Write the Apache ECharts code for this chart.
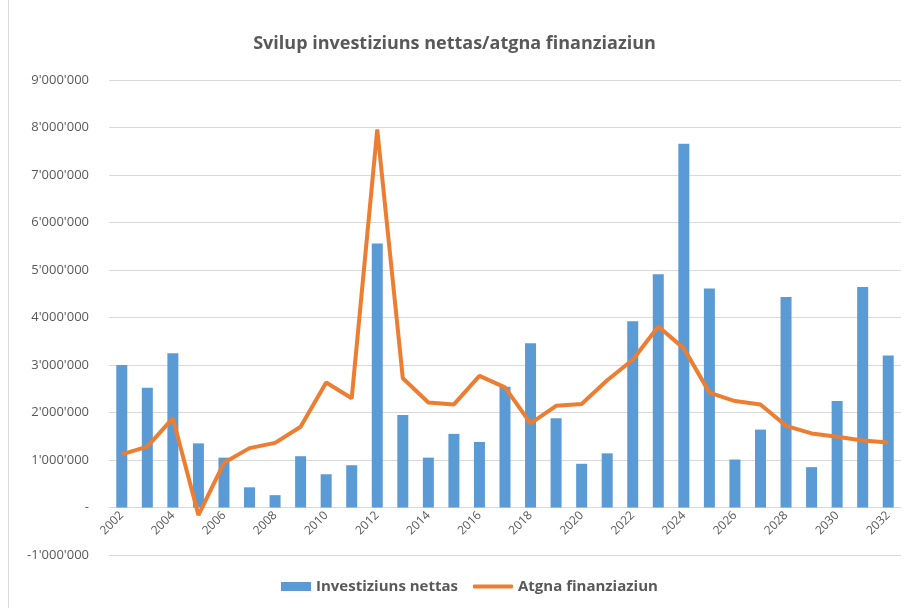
<!DOCTYPE html>
<html>
<head>
<meta charset="utf-8">
<script src="https://cdn.jsdelivr.net/npm/echarts@6/dist/echarts.min.js"></script>
<style>
  html, body { margin: 0; padding: 0; background: #fff; }
  #chart { width: 909px; height: 608px; }
</style>
</head>
<body>
<div id="chart"></div>
<script>
// years on the category axis
var years = [
  '2002', '2003', '2004', '2005', '2006', '2007', '2008', '2009', '2010', '2011',
  '2012', '2013', '2014', '2015', '2016', '2017', '2018', '2019', '2020', '2021',
  '2022', '2023', '2024', '2025', '2026', '2027', '2028', '2029', '2030', '2031', '2032'
]

// Investiziuns nettas (bars)
var investiziuns = [
  3000000, 2520000, 3250000, 1350000, 1050000, 425000, 260000, 1080000, 700000, 890000,
  5560000, 1950000, 1050000, 1550000, 1380000, 2540000, 3460000, 1880000, 920000, 1140000,
  3920000, 4910000, 7660000, 4610000, 1010000, 1640000, 4430000, 850000, 2240000, 4640000, 3200000
]

// Atgna finanziaziun (line)
var finanziaziun = [
  1120000, 1280000, 1880000, -160000, 940000, 1250000, 1360000, 1700000, 2630000, 2300000,
  7960000, 2720000, 2210000, 2170000, 2770000, 2530000, 1770000, 2140000, 2180000, 2680000,
  3110000, 3810000, 3350000, 2420000, 2240000, 2170000, 1720000, 1560000, 1490000, 1410000, 1370000
]

function fmtNum(v) {
  if (v === 0) return '-'
  var neg = v < 0
  var s = String(Math.abs(v)).replace(/\B(?=(\d{3})+(?!\d))/g, '\'')
  return (neg ? '-' : '') + s
}

var legendText = {
  color: '#595959',
  fontSize: 15,
  fontWeight: 'bold'
}

var chart = echarts.init(document.getElementById('chart'))
chart.setOption({
  backgroundColor: '#fff',
  animation: false,
  textStyle: {
    fontFamily: 'Open Sans, Noto Sans, sans-serif'
  },
  title: {
    text: 'Svilup investiziuns nettas/atgna finanziaziun',
    left: 'center',
    top: 30,
    textStyle: {
      color: '#595959',
      fontSize: 18,
      fontWeight: 'bold'
    }
  },
  graphic: [{
    type: 'line',
    shape: { x1: 8.5, y1: 0, x2: 8.5, y2: 608 },
    style: { stroke: '#d9d9d9', lineWidth: 1 }
  }],
  legend: [
    {
      left: 276,
      top: 574,
      itemWidth: 30,
      itemHeight: 9,
      textStyle: legendText,
      data: [{ name: 'Investiziuns nettas', icon: 'rect' }]
    },
    {
      left: 468,
      top: 574,
      itemWidth: 40,
      itemHeight: 4,
      itemGap: 2,
      textStyle: legendText,
      data: [{ name: 'Atgna finanziaziun', icon: 'roundRect' }]
    }
  ],
  grid: {
    left: 109,
    right: 8,
    top: 80,
    bottom: 53
  },
  xAxis: {
    type: 'category',
    data: years,
    position: 'bottom',
    offset: -47.5,
    axisLine: {
      show: true,
      onZero: false,
      lineStyle: { color: '#d9d9d9' }
    },
    axisTick: { show: false },
    axisLabel: {
      interval: 1,
      rotate: 45,
      color: '#595959',
      fontSize: 12,
      margin: 6
    }
  },
  yAxis: {
    type: 'value',
    min: -1000000,
    max: 9000000,
    interval: 1000000,
    axisLine: { show: false },
    axisTick: { show: false },
    axisLabel: {
      color: '#595959',
      fontSize: 13,
      margin: 20,
      formatter: fmtNum
    },
    splitLine: {
      lineStyle: { color: '#d9d9d9', width: 1 }
    }
  },
  series: [
    {
      name: 'Investiziuns nettas',
      type: 'bar',
      data: investiziuns,
      barWidth: 11,
      itemStyle: { color: '#5b9bd5' }
    },
    {
      name: 'Atgna finanziaziun',
      type: 'line',
      data: finanziaziun,
      symbol: 'none',
      lineStyle: { color: '#ed7d31', width: 4 },
      itemStyle: { color: '#ed7d31' }
    }
  ]
})
</script>
</body>
</html>
